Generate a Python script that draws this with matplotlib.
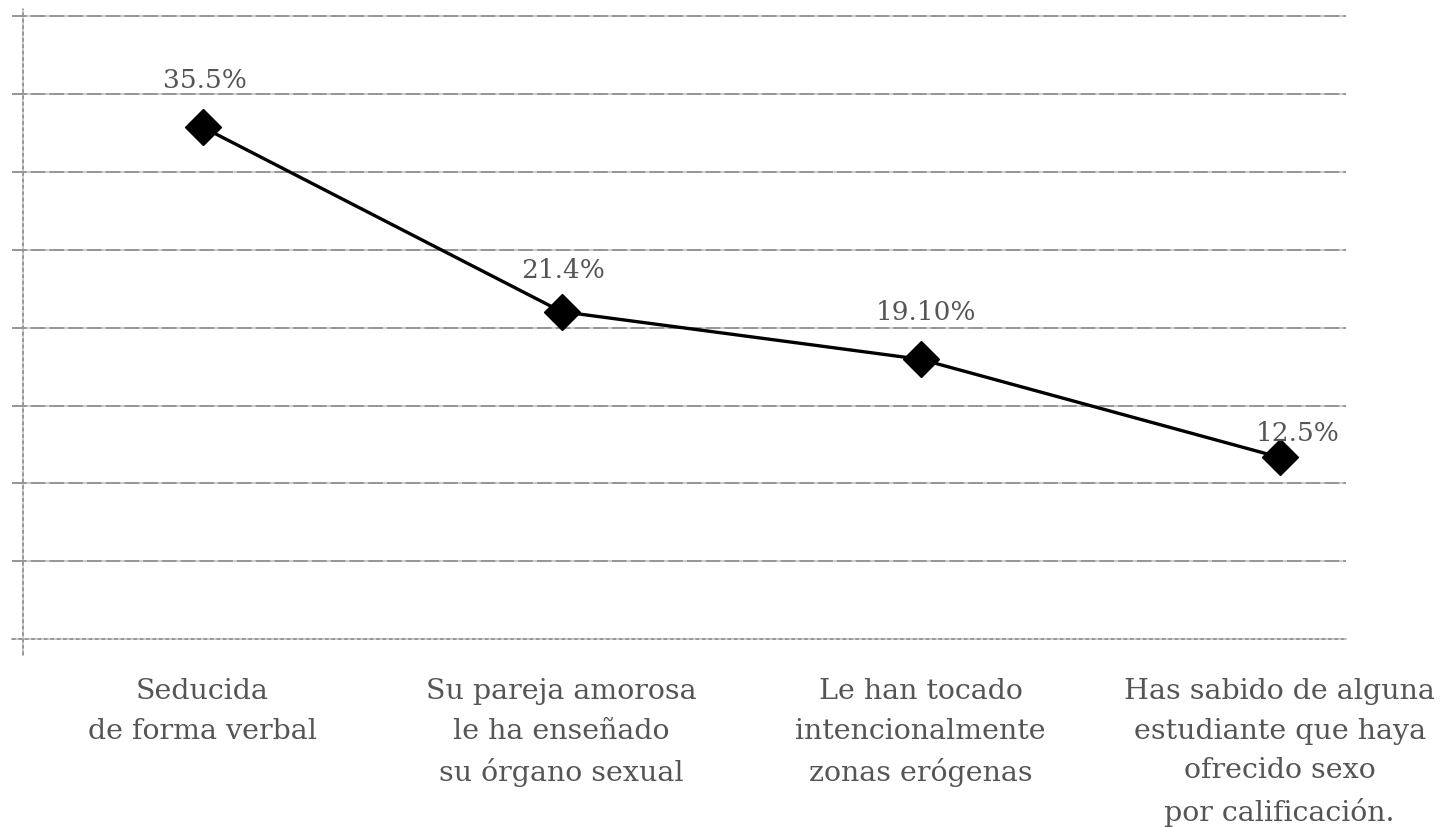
import matplotlib
matplotlib.use("Agg")
import matplotlib.pyplot as plt
import numpy as np

categories = [
    "Seducida\nde forma verbal",
    "Su pareja amorosa\nle ha enseñado\nsu órgano sexual",
    "Le han tocado\nintencionalmente\nzonas erógenas",
    "Has sabido de alguna\nestudiante que haya\nofrecido sexo\npor calificación.",
]
values = [35.5, 22.7, 19.4, 12.6]          # plotted positions
value_labels = ["35.5%", "21.4%", "19.10%", "12.5%"]
label_offsets_px = [(2, 48), (2, 42), (5, 48), (18, 25)]

plt.rcParams['font.family'] = ['DejaVu Serif', 'Liberation Serif']
plt.rcParams['lines.scale_dashes'] = False

fig = plt.figure(figsize=(14.43, 8.28), dpi=100)
ax = fig.add_axes([23/1443, 188/828, (1346-23)/1443, (640-10)/828])

x = np.arange(len(categories))
ax.set_xlim(-0.5, 3.185)
ax.set_ylim(0, 43.69)

grid_ticks = np.arange(1, 9) * 5.397
ytr = ax.get_yaxis_transform()
for yv in grid_ticks:
    ax.plot([-0.008, 1], [yv, yv], transform=ytr, color='#cccccc', lw=1.4,
            clip_on=False, zorder=1, solid_capstyle='butt')
    ax.plot([-0.008, 1], [yv, yv], transform=ytr, color='#969696', lw=1.4,
            dashes=(10.5, 3.0), clip_on=False, zorder=1.1)
# bottom axis line (dotted)
ax.plot([-0.008, 1], [0, 0], transform=ytr, color='#cccccc', lw=1.4,
        clip_on=False, zorder=1)
ax.plot([-0.008, 1], [0, 0], transform=ytr, color='#969696', lw=1.4,
        dashes=(2.6, 2.0), clip_on=False, zorder=1.1)
# left axis line (dotted)
ax.plot([0, 0], [-0.025, 1.0], transform=ax.transAxes, color='#cccccc', lw=1.4,
        clip_on=False, zorder=1)
ax.plot([0, 0], [-0.025, 1.0], transform=ax.transAxes, color='#969696', lw=1.4,
        dashes=(2.6, 2.0), clip_on=False, zorder=1.1)

ax.plot(x, values, color='black', lw=2.4, marker='D', markersize=18,
        markerfacecolor='black', markeredgecolor='black', zorder=3,
        clip_on=False)

for xi, v, lab, off in zip(x, values, value_labels, label_offsets_px):
    ax.annotate(lab, (xi, v), xytext=off, textcoords='offset pixels',
                ha='center', va='center', fontsize=19, color='#555555')

for s in ax.spines.values():
    s.set_visible(False)
ax.set_yticks([])
ax.set_xticks(x)
ax.set_xticklabels(categories, fontsize=20.5, color='#555555', linespacing=1.59,
                   va='top')
ax.tick_params(axis='x', length=0, pad=27.5)

fig.savefig("out.png", dpi=100, facecolor='white')
